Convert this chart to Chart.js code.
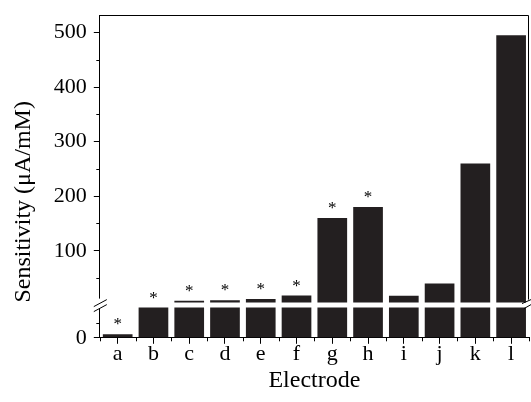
<!DOCTYPE html>
<html>
<head>
<meta charset="utf-8">
<script src="https://cdn.jsdelivr.net/npm/chart.js@4"></script>
<style>
html,body{margin:0;padding:0;background:#fff;}
#wrap{width:531px;height:402px;position:relative;}
</style>
</head>
<body>
<div id="wrap"><canvas id="c"></canvas></div>
<script>
// ---- data ----
const categories = ['a','b','c','d','e','f','g','h','i','j','k','l'];
const sensitivity = [0.6, 5, 8.5, 9.4, 11.6, 18, 160, 180, 17.7, 40, 260, 495];
const significant = [true, true, true, true, true, true, true, true, false, false, false, false];
const breakValue = 5;
const upperTicks = [100, 200, 300, 400, 500];
const upperMinorTicks = [50, 150, 250, 350, 450];
const lowerTicks = [0];
const lowerMinorTicks = [2.5];

const lowerPart = sensitivity.map(v => Math.min(v, breakValue));
const upperPart = sensitivity.map(v => v > breakValue ? v : null);

const INK = '#231f20';
const SERIF = "'Liberation Serif', 'DejaVu Serif', serif";

const decor = {
  id: 'decor',
  afterDraw(chart) {
    const ctx = chart.ctx;
    const ca = chart.chartArea;
    const yH = chart.scales.yHigh, yL = chart.scales.yLow;
    ctx.save();
    ctx.strokeStyle = '#000';
    ctx.lineWidth = 1;
    // minor ticks on y
    upperMinorTicks.forEach(v => {
      const py = Math.round(yH.getPixelForValue(v)) + 0.5;
      ctx.beginPath(); ctx.moveTo(ca.left - 3.5, py); ctx.lineTo(ca.left, py); ctx.stroke();
    });
    lowerMinorTicks.forEach(v => {
      const py = Math.round(yL.getPixelForValue(v)) + 0.5;
      ctx.beginPath(); ctx.moveTo(ca.left - 3.5, py); ctx.lineTo(ca.left, py); ctx.stroke();
    });
    // boundary ticks on x
    const step = (ca.right - ca.left) / categories.length;
    for (let i = 0; i <= categories.length; i++) {
      const px = Math.round(ca.left + i * step) + 0.5;
      ctx.beginPath(); ctx.moveTo(px, ca.bottom); ctx.lineTo(px, ca.bottom + 3.5); ctx.stroke();
    }
    // top and right frame of upper panel
    const breakY = yH.bottom;
    ctx.beginPath();
    ctx.moveTo(ca.left, ca.top + 0.5); ctx.lineTo(ca.right - 0.5, ca.top + 0.5);
    ctx.lineTo(ca.right - 0.5, breakY - 3);
    ctx.stroke();
    // break on left axis
    ctx.fillStyle = '#fff';
    ctx.fillRect(ca.left - 3, breakY - 4, 6, 10);
    ctx.beginPath();
    ctx.moveTo(ca.left - 6, breakY + 4); ctx.lineTo(ca.left + 7, breakY - 3);
    ctx.moveTo(ca.left - 6, breakY + 9); ctx.lineTo(ca.left + 7, breakY + 2);
    ctx.stroke();
    // break on right
    ctx.beginPath();
    ctx.moveTo(ca.right - 7, breakY + 1); ctx.lineTo(ca.right + 2, breakY - 3);
    ctx.moveTo(ca.right - 5, breakY + 6); ctx.lineTo(ca.right + 2, breakY + 2);
    ctx.stroke();
    // significance stars
    ctx.fillStyle = '#000';
    ctx.font = '17px ' + SERIF;
    ctx.textAlign = 'center';
    ctx.textBaseline = 'alphabetic';
    const mLow = chart.getDatasetMeta(0).data, mHigh = chart.getDatasetMeta(1).data;
    significant.forEach((s, i) => {
      if (!s) return;
      const el = upperPart[i] !== null ? mHigh[i] : mLow[i];
      ctx.fillText('*', el.x, el.y - 5);
    });
    ctx.restore();
  }
};

const tickFont = {family: SERIF, size: 22};
const titleFont = {family: SERIF, size: 24};
const noEdgePad = s => { s.paddingTop = 0; s.paddingBottom = 0; };

new Chart(document.getElementById('c'), {
  type: 'bar',
  data: {
    labels: categories,
    datasets: [
      {data: lowerPart, yAxisID: 'yLow', backgroundColor: INK, grouped: false,
       barPercentage: 0.83, categoryPercentage: 1},
      {data: upperPart, yAxisID: 'yHigh', backgroundColor: INK, grouped: false,
       barPercentage: 0.83, categoryPercentage: 1}
    ]
  },
  options: {
    responsive: true,
    maintainAspectRatio: false,
    animation: false,
    layout: {padding: {left: 9, right: 2, top: 15, bottom: 7}},
    plugins: {legend: {display: false}, tooltip: {enabled: false}},
    scales: {
      x: {
        type: 'category',
        offset: true,
        grid: {display: true, offset: false, drawOnChartArea: false, tickLength: 6, color: '#000'},
        border: {display: true, color: '#000', width: 1},
        ticks: {font: tickFont, color: '#000', padding: -3, maxRotation: 0},
        title: {display: true, text: 'Electrode', font: titleFont, color: '#000', padding: {top: 2, bottom: 0}}
      },
      yLow: {
        type: 'linear', position: 'left', stack: 'y', stackWeight: 35,
        min: 0, max: 5.83,
        afterBuildTicks: s => { s.ticks = lowerTicks.map(v => ({value: v})); },
        afterFit: noEdgePad,
        grid: {drawOnChartArea: false, tickLength: 6, color: '#000'},
        border: {display: true, color: '#000', width: 1},
        ticks: {font: tickFont, color: '#000', padding: 7}
      },
      yHigh: {
        type: 'linear', position: 'left', stack: 'y', stackWeight: 286,
        min: 5, max: 532,
        afterBuildTicks: s => { s.ticks = upperTicks.map(v => ({value: v})); },
        afterFit: noEdgePad,
        grid: {drawOnChartArea: false, tickLength: 6, color: '#000'},
        border: {display: true, color: '#000', width: 1},
        ticks: {font: tickFont, color: '#000', padding: 7},
        title: {display: true, text: 'Sensitivity (μA/mM)', font: titleFont, color: '#000', align: 'start', padding: {top: 0, bottom: 9}}
      }
    }
  },
  plugins: [decor]
});
</script>
</body>
</html>
